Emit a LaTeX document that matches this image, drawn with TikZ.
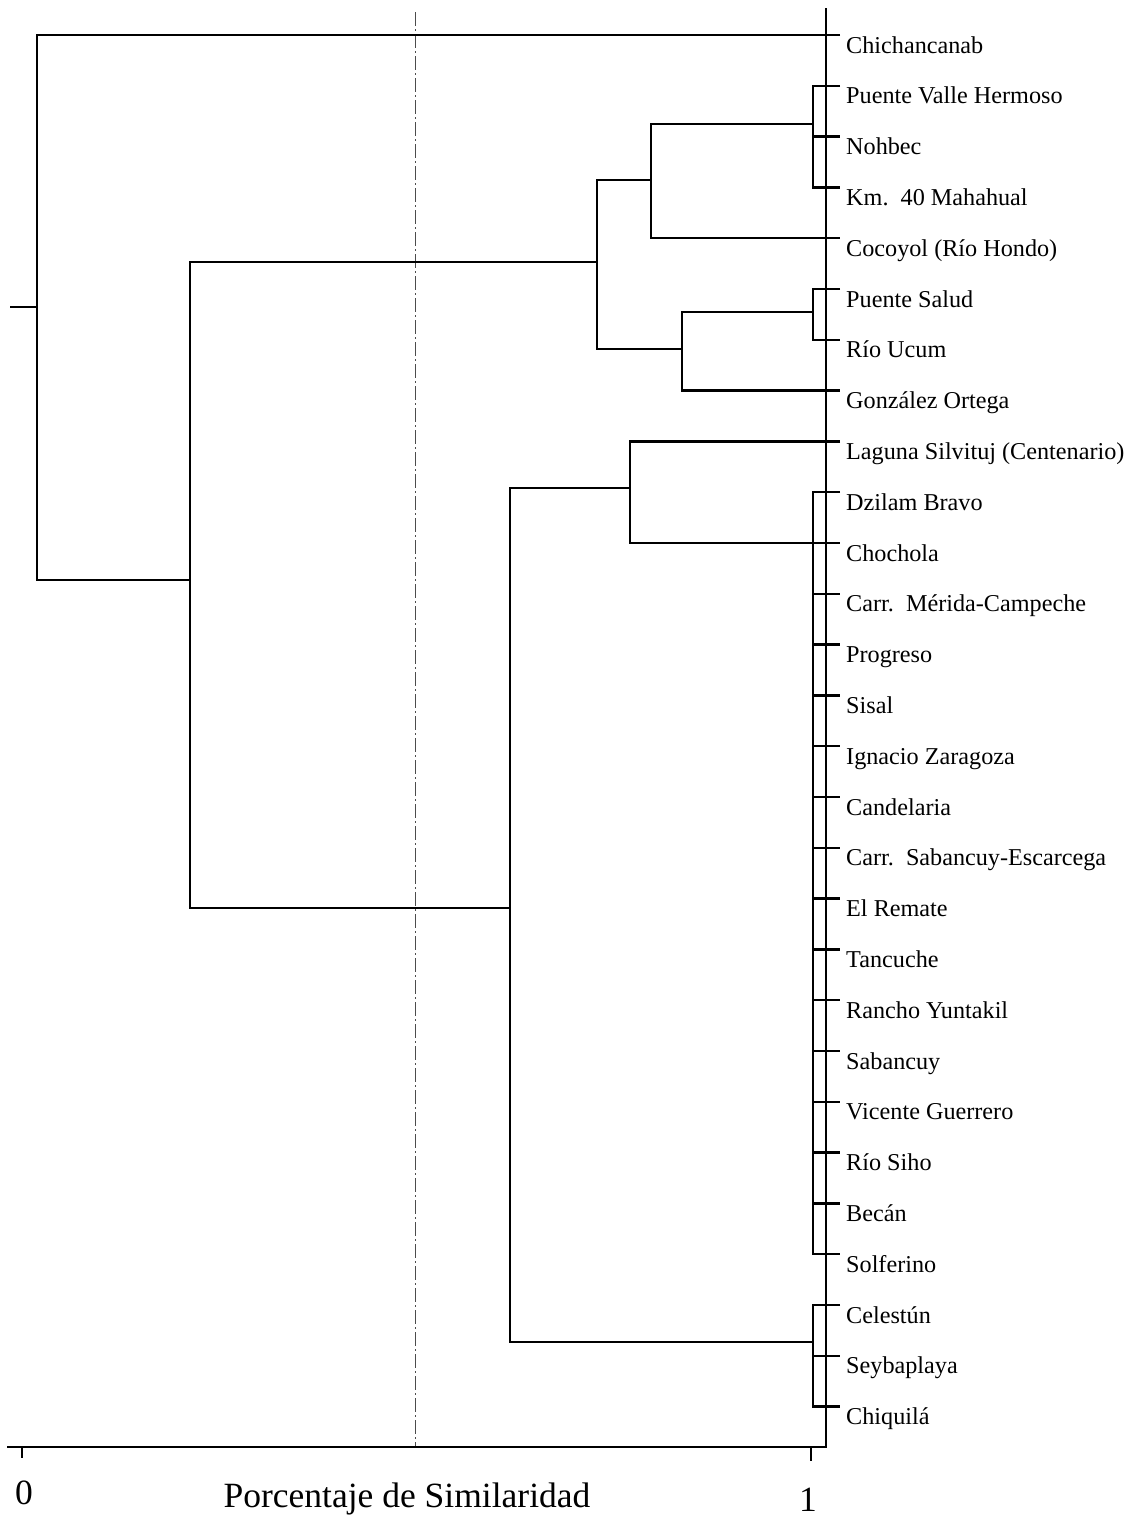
\documentclass[tikz,border=0pt]{standalone}
\usepackage{fontspec}
\setmainfont{Liberation Serif}
\begin{document}
\begin{tikzpicture}[x=1pt,y=-1pt]
\tikzset{
  branch/.style={line width=2.4pt, line join=miter},
  axisline/.style={line width=2.4pt, line join=miter},
  tickmark/.style={line width=1.8pt},
  cutline/.style={line width=0.9pt, black!70, dash pattern=on 14pt off 3pt on 2pt off 3pt},
  leaf/.style={anchor=base west, inner sep=0pt, font=\fontsize{24.2}{28}\selectfont},
  axlab/.style={anchor=base, inner sep=0pt, font=\fontsize{35.5}{40}\selectfont}
}
\useasboundingbox (0,0) rectangle (1133,1519);
% leaf tick ends
\foreach \i/\y in {1/35,2/85.8,3/136.6,4/187.4,5/238.2,6/289,7/339.8,8/390.6,9/441.4,10/492.2,
  11/543,12/593.8,13/644.6,14/695.4,15/746.2,16/797,17/847.8,18/898.6,19/949.4,20/1000.2,
  21/1051,22/1101.8,23/1152.6,24/1203.4,25/1254.2,26/1305,27/1355.8,28/1406.6}
  \coordinate (t\i) at (840,\y);
% leaf labels
\node[leaf] (l1)  at (846,53)     {Chichancanab};
\node[leaf] (l2)  at (846,103.8)  {Puente Valle Hermoso};
\node[leaf] (l3)  at (846,154.6)  {Nohbec};
\node[leaf] (l4)  at (846,205.4)  {Km.\ \ 40 Mahahual};
\node[leaf] (l5)  at (846,256.2)  {Cocoyol (Río Hondo)};
\node[leaf] (l6)  at (846,307)    {Puente Salud};
\node[leaf] (l7)  at (846,357.8)  {Río Ucum};
\node[leaf] (l8)  at (846,408.6)  {González Ortega};
\node[leaf] (l9)  at (846,459.4)  {Laguna Silvituj (Centenario)};
\node[leaf] (l10) at (846,510.2)  {Dzilam Bravo};
\node[leaf] (l11) at (846,561)    {Chochola};
\node[leaf] (l12) at (846,611.8)  {Carr.\ \ Mérida-Campeche};
\node[leaf] (l13) at (846,662.6)  {Progreso};
\node[leaf] (l14) at (846,713.4)  {Sisal};
\node[leaf] (l15) at (846,764.2)  {Ignacio Zaragoza};
\node[leaf] (l16) at (846,815)    {Candelaria};
\node[leaf] (l17) at (846,865.8)  {Carr.\ \ Sabancuy-Escarcega};
\node[leaf] (l18) at (846,916.6)  {El Remate};
\node[leaf] (l19) at (846,967.4)  {Tancuche};
\node[leaf] (l20) at (846,1018.2) {Rancho Yuntakil};
\node[leaf] (l21) at (846,1069)   {Sabancuy};
\node[leaf] (l22) at (846,1119.8) {Vicente Guerrero};
\node[leaf] (l23) at (846,1170.6) {Río Siho};
\node[leaf] (l24) at (846,1221.4) {Becán};
\node[leaf] (l25) at (846,1272.2) {Solferino};
\node[leaf] (l26) at (846,1323)   {Celestún};
\node[leaf] (l27) at (846,1373.8) {Seybaplaya};
\node[leaf] (l28) at (846,1424.6) {Chiquilá};
% internal nodes
\coordinate (stem) at (10,307);
\coordinate (root) at (37,307);
\coordinate (nA) at (190,580);
\coordinate (nB) at (597,262);
\coordinate (nC) at (651,180);
\coordinate (nD) at (813,124);
\coordinate (nE) at (682,349);
\coordinate (nF) at (813,312);
\coordinate (nG) at (510,908);
\coordinate (nH) at (630,488);
\coordinate (nI) at (813,543);
\coordinate (nJ) at (813,1342);
% axes
\coordinate (axtop) at (826,8);
\coordinate (axcorner) at (826,1447);
\coordinate (axleft) at (7,1447);
\coordinate (x0) at (22,1447);
\coordinate (x1) at (811,1447);
\coordinate (dtop) at (415,12);
\draw[cutline] (dtop) -- (dtop|-axleft);
\draw[axisline] (axtop) -- (axcorner) -- (axleft);
\draw[tickmark] (x0) -- ++(0,11);
\draw[tickmark] (x1) -- ++(0,14);
% dendrogram
\draw[branch] (stem) -- (root);
\draw[branch] (t1) -| (root) |- (nA);
\draw[branch] (nB) -| (nA) |- (nG);
\draw[branch] (nC) -| (nB) |- (nE);
\draw[branch] (nD) -| (nC) |- (t5);
\draw[branch] (t2) -| (nD) |- (t4);
\draw[branch] (nD|-t3) -- (t3);
\draw[branch] (nF) -| (nE) |- (t8);
\draw[branch] (t6) -| (nF) |- (t7);
\draw[branch] (nH) -| (nG) |- (nJ);
\draw[branch] (t9) -| (nH) |- (t11);
\draw[branch] (t10) -| (nI) |- (t25);
\foreach \k in {12,...,24} \draw[branch] (nI|-t\k) -- (t\k);
\draw[branch] (t26) -| (nJ) |- (t28);
\draw[branch] (nJ|-t27) -- (t27);
% axis labels
\node[axlab] (z0) at (24,1504) {0};
\node[axlab] (ttl) at (407,1507) {Porcentaje de Similaridad};
\node[axlab] (z1) at (808,1511) {1};
\end{tikzpicture}
\end{document}
